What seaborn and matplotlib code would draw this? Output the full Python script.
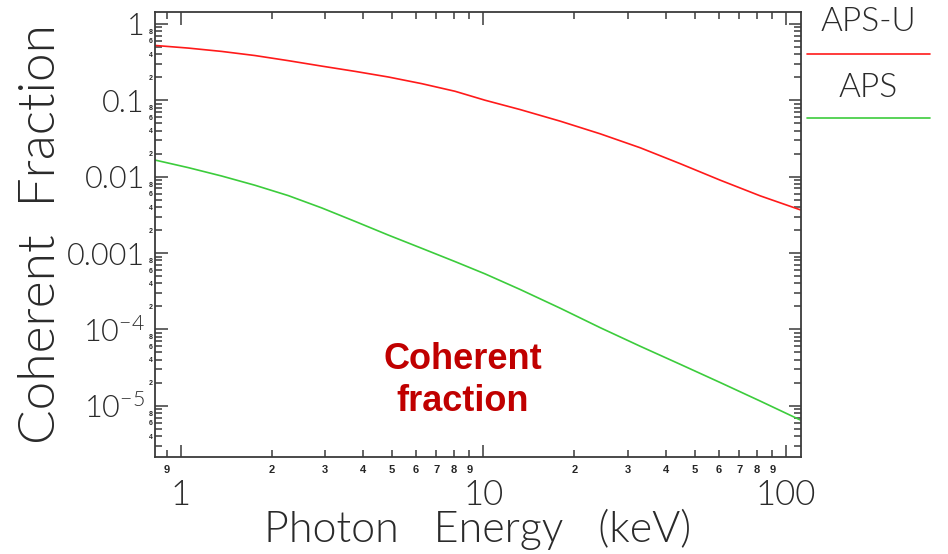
import numpy as np
import pandas as pd
import seaborn as sns
import matplotlib.pyplot as plt
from matplotlib.ticker import LogLocator, FixedLocator, FuncFormatter
from matplotlib.lines import Line2D

# values
aps_u_energy = [0.822, 1.06, 1.366, 1.76, 2.268, 2.924, 3.767, 4.853, 6.258, 8.064, 10.13,
                13.22, 17.93, 24.31, 32.96, 44.68, 60.57, 82.1, 111.4]
aps_u_frac = [0.522, 0.482, 0.436, 0.385, 0.330, 0.280, 0.239, 0.2017, 0.165, 0.1311, 0.1001,
              0.0756, 0.0533, 0.0364, 0.0239, 0.0148, 0.0090, 0.00561, 0.00368]

aps_energy = [0.822, 1.06, 1.366, 1.76, 2.268, 2.924, 3.767, 4.853, 6.258, 8.064, 10.13,
              13.22, 17.93, 24.31, 32.96, 44.68, 60.57, 82.1, 111.4]
aps_frac = [0.01652, 0.01313, 0.01020, 0.00772, 0.00565, 0.00390, 0.00260, 0.00172, 0.001154,
            0.000773, 0.000534, 0.000334, 0.000190, 0.0001056, 6.03e-5, 3.50e-5, 2.02e-5,
            1.156e-5, 6.53e-6]

series_names = ["APS-U", "APS"]
series_colors = ["#ff1a1a", "#3ccc3c"]

y_major = [1, 0.1, 0.01, 0.001, 1e-4, 1e-5]
y_major_labels = ["1", "0.1", "0.01", "0.001", "10$^{-4}$", "10$^{-5}$"]
x_major = [1, 10, 100]
x_major_labels = ["1", "10", "100"]

df = pd.concat([
    pd.DataFrame({"energy": aps_u_energy, "frac": aps_u_frac, "source": series_names[0]}),
    pd.DataFrame({"energy": aps_energy, "frac": aps_frac, "source": series_names[1]}),
])

sns.set_style("ticks")
plt.rcParams["font.family"] = ["Lato", "DejaVu Sans"]
plt.rcParams["font.weight"] = 300
plt.rcParams["axes.labelweight"] = 300
plt.rcParams["mathtext.fontset"] = "custom"
plt.rcParams["mathtext.rm"] = "Lato:weight=300"
plt.rcParams["mathtext.default"] = "rm"

text_color = "#2a2a2a"

fig = plt.figure(figsize=(9.48, 5.54), dpi=100)
ax = fig.add_axes([154.5 / 948, 1 - 457 / 554, (801 - 154.5) / 948, (457 - 12) / 554])

sns.lineplot(data=df, x="energy", y="frac", hue="source",
             palette=dict(zip(series_names, series_colors)),
             linewidth=1.2, legend=False, ax=ax)

ax.set_xscale("log")
ax.set_yscale("log")
ax.set_xlim(0.82, 112)
ax.set_ylim(2.14e-6, 1.43)

axis_color = "#3a3a3a"
for s in ax.spines.values():
    s.set_color(axis_color)
    s.set_linewidth(1.3)

# major ticks
ax.xaxis.set_major_locator(FixedLocator(x_major))
ax.set_xticklabels(x_major_labels)
ax.yaxis.set_major_locator(FixedLocator(y_major))
ax.set_yticklabels(y_major_labels)

# minor ticks with small labels
ax.xaxis.set_minor_locator(LogLocator(base=10, subs=np.arange(2, 10), numticks=20))
ax.yaxis.set_minor_locator(LogLocator(base=10, subs=np.arange(2, 10), numticks=20))


def x_minor_fmt(v, pos):
    m = v / 10 ** np.floor(np.log10(v) + 1e-9)
    return "%d" % round(m)


def y_minor_fmt(v, pos):
    m = round(v / 10 ** np.floor(np.log10(v) + 1e-9))
    return "%d" % m if m in (2, 4, 6, 8) else ""


ax.xaxis.set_minor_formatter(FuncFormatter(x_minor_fmt))
ax.yaxis.set_minor_formatter(FuncFormatter(y_minor_fmt))

ax.tick_params(which="both", direction="in", top=True, right=True, color=axis_color, width=1.1)
ax.tick_params(which="major", length=9)
ax.tick_params(which="minor", length=5)
ax.tick_params(axis="x", which="major", labelsize=25, pad=16, labelcolor=text_color)
ax.tick_params(axis="y", which="major", labelsize=22, pad=7, labelcolor=text_color)
ax.tick_params(axis="x", which="minor", labelsize=8, pad=6)
ax.tick_params(axis="y", which="minor", labelsize=5, pad=1)
for lab in ax.xaxis.get_minorticklabels() + ax.yaxis.get_minorticklabels():
    lab.set_fontfamily(["Liberation Sans", "DejaVu Sans"])
    lab.set_fontweight("bold")

ax.set_xlabel("Photon   Energy   (keV)", fontsize=31, color=text_color, labelpad=-2)
ax.set_ylabel("Coherent  Fraction", fontsize=37, color=text_color, labelpad=2)

ax.text(0.477, 0.172, "Coherent\nfraction", transform=ax.transAxes,
        ha="center", va="center", fontsize=26, fontweight="bold",
        family=["Liberation Sans", "DejaVu Sans"], color="#c00000", linespacing=1.25)

# IDL-style legend outside on the right: label above its line
x0, x1 = 807 / 948, 930 / 948
text_y = [1 - 22 / 554, 1 - 88 / 554]
line_y = [1 - 54 / 554, 1 - 118 / 554]
for name, col, ty, ly in zip(series_names, series_colors, text_y, line_y):
    fig.text((x0 + x1) / 2, ty, name, ha="center", va="center", fontsize=24, color=text_color)
    fig.add_artist(Line2D([x0, x1], [ly, ly], color=col, linewidth=1.2, transform=fig.transFigure))

fig.savefig("out.png", dpi=100)
